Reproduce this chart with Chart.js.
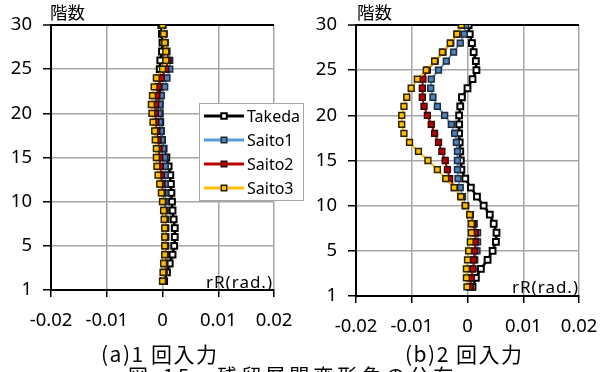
<!DOCTYPE html>
<html>
<head>
<meta charset="utf-8">
<script src="https://cdn.jsdelivr.net/npm/chart.js@4.4.1/dist/chart.umd.min.js"></script>
<style>
  html, body { margin: 0; padding: 0; background: #fff; }
  #wrap { position: relative; width: 600px; height: 372px; overflow: hidden; background: #fff; }
  canvas { position: absolute; top: 0; }
  #cA { left: 0; z-index: 2; }
  #cB { left: 300px; z-index: 1; }
  .t { position: absolute; z-index: 3; white-space: nowrap; color: #000; line-height: 1; }
  .jp { font-family: "Noto Sans CJK JP", sans-serif; }
  .en { font-family: "Noto Sans", sans-serif; }
</style>
</head>
<body>
<div id="wrap">
  <canvas id="cA" width="320" height="372"></canvas>
  <canvas id="cB" width="320" height="372"></canvas>
  <div class="t jp" style="left:50px;top:3px;font-size:17.5px;">階数</div>
  <div class="t jp" style="left:357px;top:3px;font-size:17.5px;">階数</div>
  <div class="t en" style="left:206px;top:273px;font-size:17px;letter-spacing:1px;">rR(rad.)</div>
  <div class="t en" style="left:512px;top:278px;font-size:17px;letter-spacing:1px;">rR(rad.)</div>
  <div class="t jp" style="left:101px;top:343px;font-size:21px;letter-spacing:1.5px;">(a)1 回入力</div>
  <div class="t jp" style="left:405px;top:343px;font-size:21px;letter-spacing:1.5px;">(b)2 回入力</div>
  <div class="t jp" style="left:128px;top:366px;font-size:20px;letter-spacing:4px;">図-15　残留層間変形角の分布</div>
</div>
<script>
// Floors (1 at the bottom, 30 at the top)
const floors = [1,2,3,4,5,6,7,8,9,10,11,12,13,14,15,16,17,18,19,20,21,22,23,24,25,26,27,28,29,30];
const seriesNames = ['Takeda', 'Saito1', 'Saito2', 'Saito3'];
const yTickLabels = ['1', '5', '10', '15', '20', '25', '30'];
const xTickLabels = ['-0.02', '-0.01', '0', '0.01', '0.02'];

// (a) first input: residual drift angle per floor
const takedaA = [0.0003, 0.0008, 0.0013, 0.0018, 0.0021, 0.0022, 0.0022, 0.0020, 0.0018, 0.0017,
                 0.0016, 0.0015, 0.0014, 0.0011, 0.0007, 0.0002, -0.0001, -0.0003, -0.0004, -0.0005,
                 -0.0005, -0.0005, -0.0005, -0.0005, -0.0005, -0.0004, -0.0001, 0.0000, -0.0001, -0.0002];
const saito1A = [0.0001, 0.0003, 0.0004, 0.0005, 0.0006, 0.0006, 0.0006, 0.0006, 0.0005, 0.0005,
                 0.0005, 0.0005, 0.0005, 0.0005, 0.0004, 0.0001, -0.0001, -0.0003, -0.0005, -0.0006,
                 -0.0005, -0.0002, 0.0004, 0.0008, 0.0013, 0.0013, 0.0008, 0.0005, 0.0003, 0.0001];
const saito2A = [0.0001, 0.0002, 0.0004, 0.0005, 0.0005, 0.0005, 0.0005, 0.0004, 0.0003, 0.0001,
                 0.0000, -0.0001, -0.0002, -0.0004, -0.0005, -0.0006, -0.0008, -0.0010, -0.0012, -0.0013,
                 -0.0012, -0.0010, -0.0007, -0.0002, 0.0006, 0.0010, 0.0007, 0.0004, 0.0002, 0.0000];
const saito3A = [0.0000, 0.0001, 0.0002, 0.0004, 0.0004, 0.0004, 0.0004, 0.0003, 0.0002, 0.0000,
                 -0.0002, -0.0005, -0.0008, -0.0010, -0.0011, -0.0011, -0.0013, -0.0014, -0.0017, -0.0019,
                 -0.0020, -0.0018, -0.0015, -0.0011, 0.0000, 0.0006, 0.0006, 0.0004, 0.0002, 0.0000];

// (b) second input
const takedaB = [0.0009, 0.0015, 0.0024, 0.0036, 0.0045, 0.0051, 0.0052, 0.0047, 0.0040, 0.0029,
                 0.0017, 0.0006, -0.0004, -0.0011, -0.0012, -0.0013, -0.0014, -0.0015, -0.0015, -0.0015,
                 -0.0013, -0.0010, 0.0000, 0.0009, 0.0016, 0.0015, 0.0011, 0.0008, 0.0004, 0.0002];
const saito1B = [0.0003, 0.0006, 0.0009, 0.0013, 0.0017, 0.0018, 0.0018, 0.0012, 0.0005, -0.0003,
                 -0.0009, -0.0013, -0.0017, -0.0018, -0.0018, -0.0018, -0.0020, -0.0023, -0.0029, -0.0041,
                 -0.0054, -0.0062, -0.0066, -0.0065, -0.0052, -0.0038, -0.0025, -0.0013, -0.0006, -0.0003];
const saito2B = [0.0005, 0.0007, 0.0010, 0.0011, 0.0013, 0.0014, 0.0014, 0.0010, 0.0005, -0.0004,
                 -0.0012, -0.0023, -0.0032, -0.0036, -0.0040, -0.0046, -0.0052, -0.0059, -0.0065, -0.0072,
                 -0.0078, -0.0081, -0.0081, -0.0080, -0.0072, -0.0058, -0.0044, -0.0030, -0.0019, -0.0011];
const saito3B = [-0.0001, -0.0002, -0.0002, 0.0000, 0.0002, 0.0005, 0.0007, 0.0007, 0.0004, -0.0004,
                 -0.0012, -0.0024, -0.0039, -0.0054, -0.0071, -0.0088, -0.0104, -0.0114, -0.0118, -0.0118,
                 -0.0114, -0.0109, -0.0101, -0.0090, -0.0074, -0.0059, -0.0045, -0.0031, -0.0019, -0.0011];

// Series styles: line colour, marker fill, marker border, line width, draw order
const styles = [
  { line: '#000000', fill: '#ffffff', edge: '#000000', lw: 2.5, edgeW: 2,   order: 4 },
  { line: '#5b9bd5', fill: '#4f81bd', edge: '#1f2a3a', lw: 2,   edgeW: 1.5, order: 3 },
  { line: '#c00000', fill: '#c00000', edge: '#2a0a0a', lw: 2,   edgeW: 1.5, order: 2 },
  { line: '#ffc000', fill: '#ffc000', edge: '#2a2200', lw: 2,   edgeW: 1.5, order: 1 }
];

Chart.defaults.font.family = '"Noto Sans", sans-serif';
Chart.defaults.color = '#000';

function makeDatasets(seriesList) {
  return seriesList.map((vals, i) => ({
    label: seriesNames[i],
    data: vals.map((v, k) => ({ x: v, y: floors[k] })),
    showLine: true,
    borderColor: styles[i].line,
    borderWidth: styles[i].lw,
    pointStyle: 'rect',
    pointRadius: 4.1,
    pointBackgroundColor: styles[i].fill,
    pointBorderColor: styles[i].edge,
    pointBorderWidth: styles[i].edgeW,
    order: styles[i].order,
    tension: 0
  }));
}

function makeScales(yWidth, xHeight) {
  return {
    x: {
      type: 'linear', min: -0.02, max: 0.02,
      ticks: {
        stepSize: 0.01, padding: 13, maxRotation: 0, autoSkip: false,
        font: { size: 18.5 },
        callback: (v, i) => xTickLabels[i]
      },
      grid: {
        color: '#a6a6a6', lineWidth: 1.5,
        tickColor: '#000', tickLength: 7, tickWidth: 1.5
      },
      border: { color: '#000', width: 2 },
      afterFit: (s) => { s.height = xHeight; }
    },
    y: {
      type: 'linear', min: 0, max: 30,
      ticks: {
        stepSize: 5, padding: 11, autoSkip: false,
        font: { size: 18.5 },
        callback: (v, i) => yTickLabels[i]
      },
      grid: {
        color: (c) => (c.tick && c.tick.value === 30 ? '#000' : '#a6a6a6'),
        lineWidth: (c) => (c.tick && c.tick.value === 30 ? 2 : 1.5),
        tickColor: '#000', tickLength: 8, tickWidth: 1.5
      },
      border: { color: '#000', width: 2 },
      afterFit: (s) => { s.width = yWidth; }
    }
  };
}

// Legend box drawn from the dataset styles
const boxLegend = {
  id: 'boxLegend',
  afterDraw(chart) {
    const ctx = chart.ctx;
    const bx = 199.5, by = 103.5, bw = 104, bh = 97;
    const rows = [116, 140, 164, 188];
    ctx.save();
    ctx.fillStyle = '#fff';
    ctx.fillRect(bx, by, bw, bh);
    ctx.strokeStyle = '#a6a6a6';
    ctx.lineWidth = 1;
    ctx.strokeRect(bx, by, bw, bh);
    chart.data.datasets.forEach((ds, i) => {
      const y = rows[i];
      ctx.strokeStyle = ds.borderColor;
      ctx.lineWidth = 3;
      ctx.beginPath();
      ctx.moveTo(204, y);
      ctx.lineTo(244, y);
      ctx.stroke();
      const s = 5.5;
      ctx.fillStyle = ds.pointBackgroundColor;
      ctx.fillRect(224 - s / 2, y - s / 2, s, s);
      ctx.strokeStyle = ds.pointBorderColor;
      ctx.lineWidth = ds.pointBorderWidth;
      ctx.strokeRect(224 - s / 2, y - s / 2, s, s);
      ctx.fillStyle = '#000';
      ctx.font = '16px "Noto Sans", sans-serif';
      ctx.textBaseline = 'middle';
      ctx.textAlign = 'left';
      ctx.fillText(ds.label, 247, y + 1);
    });
    ctx.restore();
  }
};

const common = {
  responsive: false,
  animation: false,
  devicePixelRatio: 1,
  plugins: { legend: { display: false }, tooltip: { enabled: false } }
};

new Chart(document.getElementById('cA'), {
  type: 'scatter',
  data: { datasets: makeDatasets([takedaA, saito1A, saito2A, saito3A]) },
  options: Object.assign({}, common, {
    layout: { padding: { top: 25, right: 46, left: 0, bottom: 0 } },
    scales: makeScales(51, 82)
  }),
  plugins: [boxLegend]
});

new Chart(document.getElementById('cB'), {
  type: 'scatter',
  data: { datasets: makeDatasets([takedaB, saito1B, saito2B, saito3B]) },
  options: Object.assign({}, common, {
    layout: { padding: { top: 25, right: 41, left: 0, bottom: 0 } },
    scales: makeScales(56, 76)
  })
});
</script>
</body>
</html>
